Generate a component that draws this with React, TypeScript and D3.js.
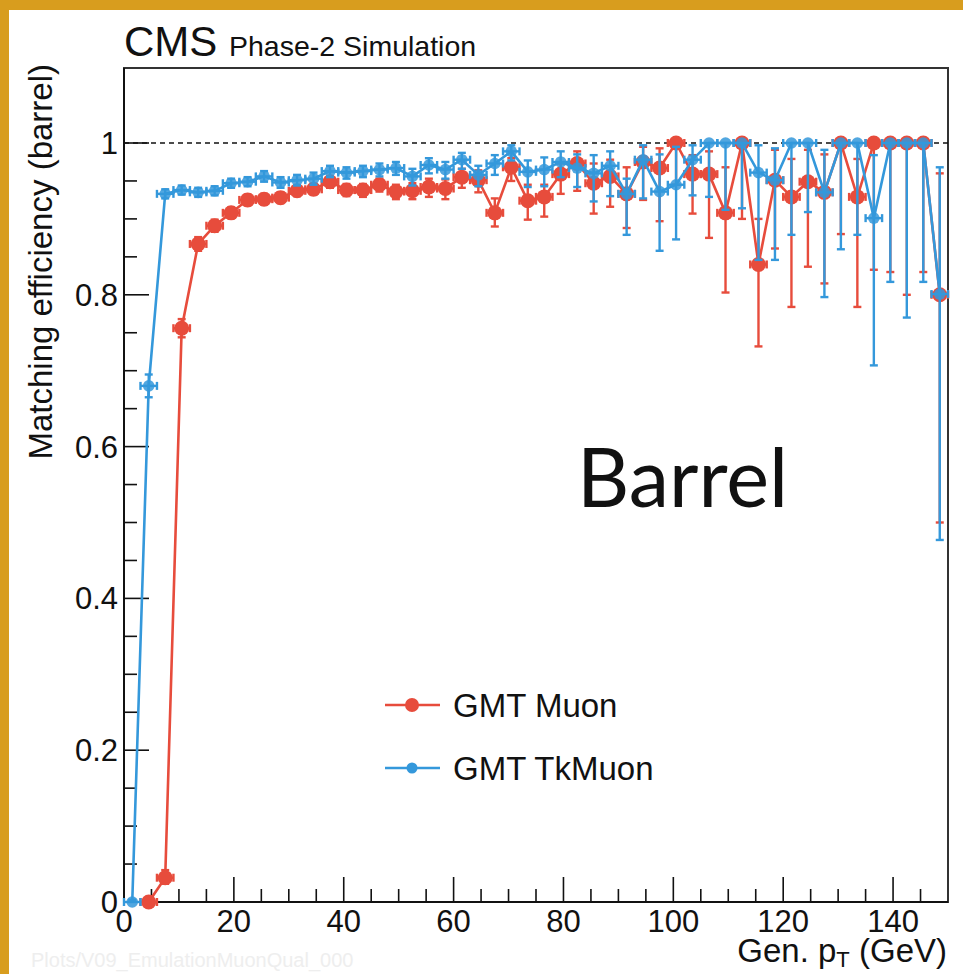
import React from 'react';
import * as d3 from 'd3';

// ---------- data ----------
const binCenters = [
  1.5, 4.5, 7.5, 10.5, 13.5, 16.5, 19.5, 22.5, 25.5, 28.5,
  31.5, 34.5, 37.5, 40.5, 43.5, 46.5, 49.5, 52.5, 55.5, 58.5,
  61.5, 64.5, 67.5, 70.5, 73.5, 76.5, 79.5, 82.5, 85.5, 88.5,
  91.5, 94.5, 97.5, 100.5, 103.5, 106.5, 109.5, 112.5, 115.5, 118.5,
  121.5, 124.5, 127.5, 130.5, 133.5, 136.5, 139.5, 142.5, 145.5, 148.5,
];
const binHalfWidth = 1.5;

const muonEff = [
  null, 0.0, 0.032, 0.756, 0.867, 0.891, 0.908, 0.925, 0.926, 0.928,
  0.937, 0.939, 0.949, 0.938, 0.938, 0.945, 0.936, 0.937, 0.942, 0.94,
  0.955, 0.951, 0.908, 0.968, 0.924, 0.929, 0.959, 0.973, 0.947, 0.956,
  0.933, 0.975, 0.967, 1.0, 0.959, 0.959, 0.908, 1.0, 0.84, 0.951,
  0.929, 0.949, 0.935, 1.0, 0.929, 1.0, 1.0, 1.0, 1.0, 0.8,
];
const muonErrLow = [
  null, 0, 0.008, 0.012, 0.009, 0.008, 0.007, 0.007, 0.007, 0.007,
  0.007, 0.007, 0.008, 0.008, 0.009, 0.009, 0.01, 0.011, 0.013, 0.014,
  0.014, 0.016, 0.018, 0.018, 0.025, 0.026, 0.026, 0.036, 0.04, 0.04,
  0.045, 0.05, 0.07, 0.055, 0.052, 0.084, 0.105, 0.1, 0.108, 0.09,
  0.145, 0.112, 0.12, 0.12, 0.145, 0.167, 0.17, 0.2, 0.17, 0.3,
];
const muonErrHigh = [
  null, 0.004, 0.01, 0.012, 0.009, 0.008, 0.007, 0.007, 0.007, 0.007,
  0.007, 0.007, 0.007, 0.008, 0.008, 0.008, 0.009, 0.01, 0.011, 0.012,
  0.011, 0.013, 0.019, 0.012, 0.021, 0.016, 0.014, 0.016, 0.026, 0.022,
  0.035, 0.02, 0.026, 0, 0.025, 0.03, 0.06, 0, 0.06, 0.04,
  0.05, 0.042, 0.05, 0, 0.05, 0, 0, 0, 0, 0.16,
];

const tkEff = [
  0.0, 0.68, 0.933, 0.938, 0.935, 0.937, 0.947, 0.949, 0.956, 0.948,
  0.951, 0.953, 0.963, 0.961, 0.963, 0.965, 0.967, 0.956, 0.971, 0.965,
  0.978, 0.958, 0.973, 0.989, 0.962, 0.965, 0.975, 0.967, 0.96, 0.97,
  0.933, 0.978, 0.936, 0.945, 0.978, 1.0, 1.0, 1.0, 0.961, 0.951,
  1.0, 1.0, 0.935, 1.0, 1.0, 0.901, 1.0, 1.0, 1.0, 0.801,
];
const tkErrLow = [
  0, 0.015, 0.006, 0.006, 0.006, 0.006, 0.006, 0.006, 0.007, 0.007,
  0.007, 0.008, 0.008, 0.008, 0.008, 0.009, 0.009, 0.012, 0.011, 0.012,
  0.012, 0.015, 0.015, 0.012, 0.02, 0.022, 0.02, 0.025, 0.037, 0.04,
  0.054, 0.051, 0.078, 0.072, 0.047, 0.071, 0.088, 0.086, 0.115, 0.105,
  0.121, 0.091, 0.138, 0.14, 0.121, 0.194, 0.183, 0.23, 0.183, 0.324,
];
const tkErrHigh = [
  0.003, 0.015, 0.006, 0.006, 0.006, 0.006, 0.006, 0.006, 0.007, 0.007,
  0.007, 0.008, 0.007, 0.007, 0.007, 0.008, 0.008, 0.01, 0.009, 0.01,
  0.009, 0.012, 0.011, 0.008, 0.015, 0.016, 0.014, 0.018, 0.024, 0.019,
  0.02, 0.019, 0.049, 0.05, 0.019, 0, 0, 0, 0.036, 0.042,
  0, 0, 0.056, 0, 0, 0.083, 0, 0, 0, 0.167,
];

const xMajorTicks = [0, 20, 40, 60, 80, 100, 120, 140];
const xTickLabels = ['0', '20', '40', '60', '80', '100', '120', '140'];
const yMajorTicks = [0, 0.2, 0.4, 0.6, 0.8, 1];
const yTickLabels = ['0', '0.2', '0.4', '0.6', '0.8', '1'];
const seriesNames = ['GMT Muon', 'GMT TkMuon'];

// ---------- layout ----------
const W = 963;
const H = 974;
const FL = 124, FR = 948, FT = 68, FB = 902;
const RED = '#e74c3c';
const BLUE = '#3498db';
const GOLD = '#d89d1e';
const FONT = "'Liberation Sans', Arial, Helvetica, sans-serif";

const x = d3.scaleLinear().domain([0, 150]).range([FL, FR]);
const y = d3.scaleLinear().domain([0, 1.1]).range([FB, FB - 1.1 * 759]);

type Pt = { cx: number; v: number; lo: number; hi: number };

function buildPts(eff: (number | null)[], lo: (number | null)[], hi: (number | null)[]): Pt[] {
  const out: Pt[] = [];
  eff.forEach((v, i) => {
    if (v == null) return;
    out.push({ cx: binCenters[i], v, lo: (lo[i] as number) || 0, hi: (hi[i] as number) || 0 });
  });
  return out;
}

function Series({ pts, color, r, markerOpacity }: { pts: Pt[]; color: string; r: number; markerOpacity: number }) {
  const line = d3.line<Pt>().x(d => x(d.cx)).y(d => y(d.v));
  const cap = 4;
  return (
    <g>
      <path d={line(pts) || ''} fill="none" stroke={color} strokeWidth={2.6} />
      {pts.map((d, i) => {
        const px = x(d.cx);
        const py = y(d.v);
        const yLo = y(d.v - d.lo);
        const yHi = y(d.v + d.hi);
        const xl = x(d.cx - binHalfWidth);
        const xr = x(d.cx + binHalfWidth);
        return (
          <g key={i} stroke={color} strokeWidth={2.4}>
            {d.lo > 0 && <line x1={px} x2={px} y1={py} y2={yLo} />}
            {d.lo > 0 && <line x1={px - cap} x2={px + cap} y1={yLo} y2={yLo} />}
            {d.hi > 0 && <line x1={px} x2={px} y1={py} y2={yHi} />}
            {d.hi > 0 && <line x1={px - cap} x2={px + cap} y1={yHi} y2={yHi} />}
            <line x1={xl} x2={xr} y1={py} y2={py} />
            <line x1={xl} x2={xl} y1={py - cap} y2={py + cap} />
            <line x1={xr} x2={xr} y1={py - cap} y2={py + cap} />
          </g>
        );
      })}
      {pts.map((d, i) => (
        <circle key={'m' + i} cx={x(d.cx)} cy={y(d.v)} r={r} fill={color} fillOpacity={markerOpacity} />
      ))}
    </g>
  );
}

export default function App() {
  const muonPts = buildPts(muonEff, muonErrLow, muonErrHigh);
  const tkPts = buildPts(tkEff, tkErrLow, tkErrHigh);

  const xMinor = d3.range(0, 151, 5).filter(v => !xMajorTicks.includes(v) && v < 150);
  const yMinor = d3.range(0, 21).map(i => i * 0.05).filter(v => v > 0 && v < 1.1);

  const legend = [
    { name: seriesNames[0], color: RED, r: 7, ly: 705 },
    { name: seriesNames[1], color: BLUE, r: 5.5, ly: 768 },
  ];

  return (
    <svg width={W} height={H} style={{ position: 'absolute', left: 0, top: 0, background: '#fff' }} fontFamily={FONT}>
      <rect x={0} y={0} width={W} height={H} fill="#fff" />
      {/* gold frame */}
      <rect x={0} y={0} width={W} height={10} fill={GOLD} />
      <rect x={0} y={0} width={9} height={H} fill={GOLD} />

      {/* faint footer */}
      <text x={31} y={967} fontSize={20} fill="#eeeeee">Plots/V09_EmulationMuonQual_000</text>

      {/* title */}
      <text x={FL} y={56} fontSize={42} fill="#111">CMS</text>
      <text x={229} y={56} fontSize={28.5} fill="#111">Phase-2 Simulation</text>

      {/* frame */}
      <rect x={FL} y={FT} width={FR - FL} height={FB - FT} fill="none" stroke="#333" strokeWidth={2} />

      {/* dashed line at 1 */}
      <line x1={x(0)} x2={x(150)} y1={y(1)} y2={y(1)} stroke="#111" strokeWidth={1.6} strokeDasharray="5,4" />

      {/* y ticks */}
      {yMajorTicks.map((t, i) => (
        <g key={'ym' + i}>
          <line x1={FL} x2={FL + 25} y1={y(t)} y2={y(t)} stroke="#111" strokeWidth={1.6} />
          <text x={118} y={y(t) + 11} fontSize={31} textAnchor="end" fill="#111">{yTickLabels[i]}</text>
        </g>
      ))}
      {yMinor.filter(v => !yMajorTicks.some(t => Math.abs(t - v) < 1e-6)).map((t, i) => (
        <line key={'yn' + i} x1={FL} x2={FL + 13} y1={y(t)} y2={y(t)} stroke="#111" strokeWidth={1.6} />
      ))}

      {/* x ticks */}
      {xMajorTicks.map((t, i) => (
        <g key={'xm' + i}>
          <line x1={x(t)} x2={x(t)} y1={FB} y2={FB - 25} stroke="#111" strokeWidth={1.6} />
          <text x={x(t)} y={932} fontSize={31} textAnchor="middle" fill="#111">{xTickLabels[i]}</text>
        </g>
      ))}
      {xMinor.map((t, i) => (
        <line key={'xn' + i} x1={x(t)} x2={x(t)} y1={FB} y2={FB - 13} stroke="#111" strokeWidth={1.6} />
      ))}
      <line x1={FL} x2={FR} y1={FB} y2={FB} stroke="#111" strokeWidth={2} />
      <line x1={FL} x2={FL} y1={FT} y2={FB} stroke="#111" strokeWidth={2} />

      {/* axis titles */}
      <text transform={`translate(52, 64) rotate(-90)`} fontSize={33} textAnchor="end" fill="#111">
        Matching efficiency (barrel)
      </text>
      <text x={947} y={962} fontSize={33} textAnchor="end" fill="#111">
        Gen. p<tspan fontSize={22} dy={5}>T</tspan><tspan dy={-5}> (GeV)</tspan>
      </text>

      {/* series */}
      <Series pts={muonPts} color={RED} r={7.5} markerOpacity={1} />
      <Series pts={tkPts} color={BLUE} r={5.8} markerOpacity={0.85} />

      {/* legend */}
      {legend.map((l, i) => (
        <g key={'lg' + i}>
          <line x1={385} x2={440} y1={l.ly} y2={l.ly} stroke={l.color} strokeWidth={2.6} />
          <circle cx={412} cy={l.ly} r={l.r} fill={l.color} />
          <text x={453} y={l.ly + 12} fontSize={33} fill="#111">{l.name}</text>
        </g>
      ))}

      {/* Barrel label */}
      <text x={577} y={507} fontSize={81} fontFamily="Lato, 'Open Sans', sans-serif" fill="#111">Barrel</text>
    </svg>
  );
}
